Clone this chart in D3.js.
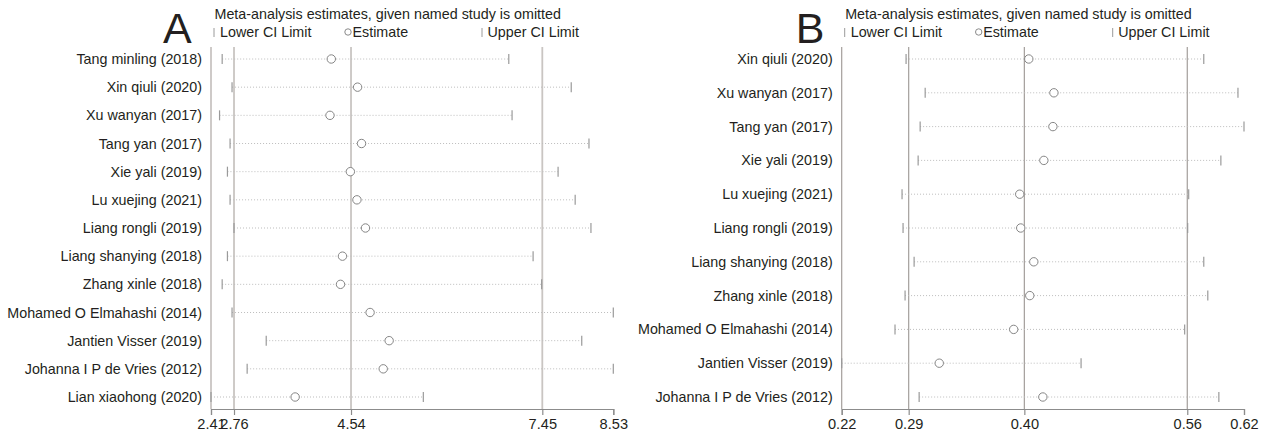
<!DOCTYPE html>
<html>
<head>
<meta charset="utf-8">
<script src="https://cdn.jsdelivr.net/npm/d3@7/dist/d3.min.js"></script>
<style>
  html, body { margin: 0; padding: 0; background: #fff; }
  svg { display: block; font-family: "Liberation Sans", Arial, sans-serif; }
</style>
</head>
<body>
<svg id="chart" width="1269" height="436"></svg>
<script>
// Panel A: leave-one-out estimates
const studiesA = [
  "Tang minling (2018)", "Xin qiuli (2020)", "Xu wanyan (2017)", "Tang yan (2017)",
  "Xie yali (2019)", "Lu xuejing (2021)", "Liang rongli (2019)", "Liang shanying (2018)",
  "Zhang xinle (2018)", "Mohamed O Elmahashi (2014)", "Jantien Visser (2019)",
  "Johanna I P de Vries (2012)", "Lian xiaohong (2020)"
];
const estimateA = [4.24, 4.64, 4.22, 4.70, 4.53, 4.63, 4.76, 4.41, 4.38, 4.83, 5.12, 5.03, 3.69];
const lowerA    = [2.58, 2.73, 2.54, 2.70, 2.66, 2.70, 2.76, 2.66, 2.58, 2.73, 3.25, 2.96, 2.41];
const upperA    = [6.94, 7.89, 6.99, 8.16, 7.69, 7.95, 8.19, 7.31, 7.44, 8.53, 8.05, 8.53, 5.64];
const tickValuesA = [2.41, 2.76, 4.54, 7.45, 8.53];
const overallA    = [2.76, 4.54, 7.45];

// Panel B: leave-one-out estimates
const studiesB = [
  "Xin qiuli (2020)", "Xu wanyan (2017)", "Tang yan (2017)", "Xie yali (2019)",
  "Lu xuejing (2021)", "Liang rongli (2019)", "Liang shanying (2018)", "Zhang xinle (2018)",
  "Mohamed O Elmahashi (2014)", "Jantien Visser (2019)", "Johanna I P de Vries (2012)"
];
const estimateB = [0.406, 0.431, 0.430, 0.421, 0.397, 0.398, 0.411, 0.407, 0.391, 0.317, 0.420];
const lowerB    = [0.284, 0.303, 0.298, 0.296, 0.280, 0.281, 0.292, 0.283, 0.273, 0.220, 0.297];
const upperB    = [0.580, 0.614, 0.620, 0.597, 0.565, 0.564, 0.580, 0.584, 0.561, 0.458, 0.595];
const tickValuesB = [0.22, 0.2866, 0.4016, 0.5636, 0.62];
const overallB    = [0.2866, 0.4016, 0.5636];

const titleText = "Meta-analysis estimates, given named study is omitted";

const svg = d3.select("#chart");
const fmt = d3.format(".2f");
const textSize = 14.3;

function drawPanel(opt) {
  const g = svg.append("g");
  const x = d3.scaleLinear().domain(opt.domain).range([opt.left, opt.right]);
  const y = d3.scalePoint().domain(opt.studies).range([59, 397]);
  const top = 47, axisY = 409;

  // overall estimate and CI reference lines
  g.selectAll("line.ref").data(opt.overall).join("line")
    .attr("x1", d => x(d)).attr("x2", d => x(d))
    .attr("y1", top).attr("y2", axisY)
    .attr("stroke", opt.refColor).attr("stroke-width", opt.refWidth);

  // left boundary line
  g.append("line")
    .attr("x1", x(opt.domain[0])).attr("x2", x(opt.domain[0]))
    .attr("y1", top).attr("y2", axisY)
    .attr("stroke", opt.refColor).attr("stroke-width", opt.refWidth);

  // bottom axis
  const axis = d3.axisBottom(x).tickValues(opt.ticks).tickFormat(fmt).tickSize(6).tickPadding(4);
  const ax = g.append("g").attr("transform", `translate(0,${axisY})`).call(axis);
  ax.select(".domain").attr("stroke", "#8c8c8c").attr("stroke-width", 1.2);
  ax.selectAll(".tick line").attr("stroke", "#8c8c8c").attr("stroke-width", 1.2);
  ax.selectAll(".tick text")
    .attr("font-family", "Liberation Sans, Arial, sans-serif")
    .attr("font-size", 14.6).attr("fill", "#231f20");

  const rows = opt.studies.map((s, i) => ({
    s, est: opt.est[i], lo: opt.lo[i], hi: opt.hi[i]
  }));

  // dotted interval lines
  g.selectAll("line.ci").data(rows).join("line")
    .attr("x1", d => x(d.lo)).attr("x2", d => x(d.hi))
    .attr("y1", d => y(d.s)).attr("y2", d => y(d.s))
    .attr("stroke", "#bdbdbd").attr("stroke-width", 1)
    .attr("stroke-dasharray", "1,2");

  // lower and upper limit marks
  ["lo", "hi"].forEach(k => {
    g.selectAll("line.cap-" + k).data(rows).join("line")
      .attr("x1", d => x(d[k])).attr("x2", d => x(d[k]))
      .attr("y1", d => y(d.s) - 5).attr("y2", d => y(d.s) + 5)
      .attr("stroke", "#9a9a9a").attr("stroke-width", 1.2);
  });

  // estimates
  g.selectAll("circle.est").data(rows).join("circle")
    .attr("cx", d => x(d.est)).attr("cy", d => y(d.s)).attr("r", 4.2)
    .attr("fill", "#fff").attr("stroke", "#858585").attr("stroke-width", 1);

  // study labels
  g.selectAll("text.study").data(rows).join("text")
    .attr("x", opt.left - 9).attr("y", d => y(d.s)).attr("dy", "0.35em")
    .attr("text-anchor", "end").attr("font-size", textSize).attr("fill", "#231f20")
    .text(d => d.s);

  // panel letter, title and legend
  const L = opt.left;
  g.append("text").attr("x", L - opt.letterOffset).attr("y", 43)
    .attr("font-size", 43).attr("fill", "#231f20").text(opt.letter);
  g.append("text").attr("x", L + 3.5).attr("y", 19)
    .attr("font-size", textSize).attr("fill", "#231f20").text(titleText);

  const legY = 37;
  g.append("line").attr("x1", L + 3).attr("x2", L + 3).attr("y1", legY - 9).attr("y2", legY)
    .attr("stroke", "#9a9a9a").attr("stroke-width", 1);
  g.append("text").attr("x", L + 9).attr("y", legY).attr("font-size", textSize).attr("fill", "#231f20")
    .text("Lower CI Limit");
  g.append("circle").attr("cx", L + 137).attr("cy", legY - 5).attr("r", 3.2)
    .attr("fill", "#fff").attr("stroke", "#8a8a8a").attr("stroke-width", 1);
  g.append("text").attr("x", L + 141.5).attr("y", legY).attr("font-size", textSize).attr("fill", "#231f20")
    .text("Estimate");
  g.append("line").attr("x1", L + 271).attr("x2", L + 271).attr("y1", legY - 9).attr("y2", legY)
    .attr("stroke", "#9a9a9a").attr("stroke-width", 1);
  g.append("text").attr("x", L + 276.5).attr("y", legY).attr("font-size", textSize).attr("fill", "#231f20")
    .text("Upper CI Limit");
}

drawPanel({
  studies: studiesA, est: estimateA, lo: lowerA, hi: upperA,
  domain: [2.41, 8.53], left: 211, right: 613.3,
  ticks: tickValuesA, overall: overallA,
  refColor: "#c9c5c2", refWidth: 1.8, letter: "A", letterOffset: 48
});

drawPanel({
  studies: studiesB, est: estimateB, lo: lowerB, hi: upperB,
  domain: [0.22, 0.62], left: 841.7, right: 1244,
  ticks: tickValuesB, overall: overallB,
  refColor: "#a39e9b", refWidth: 1.2, letter: "B", letterOffset: 46
});
</script>
</body>
</html>
